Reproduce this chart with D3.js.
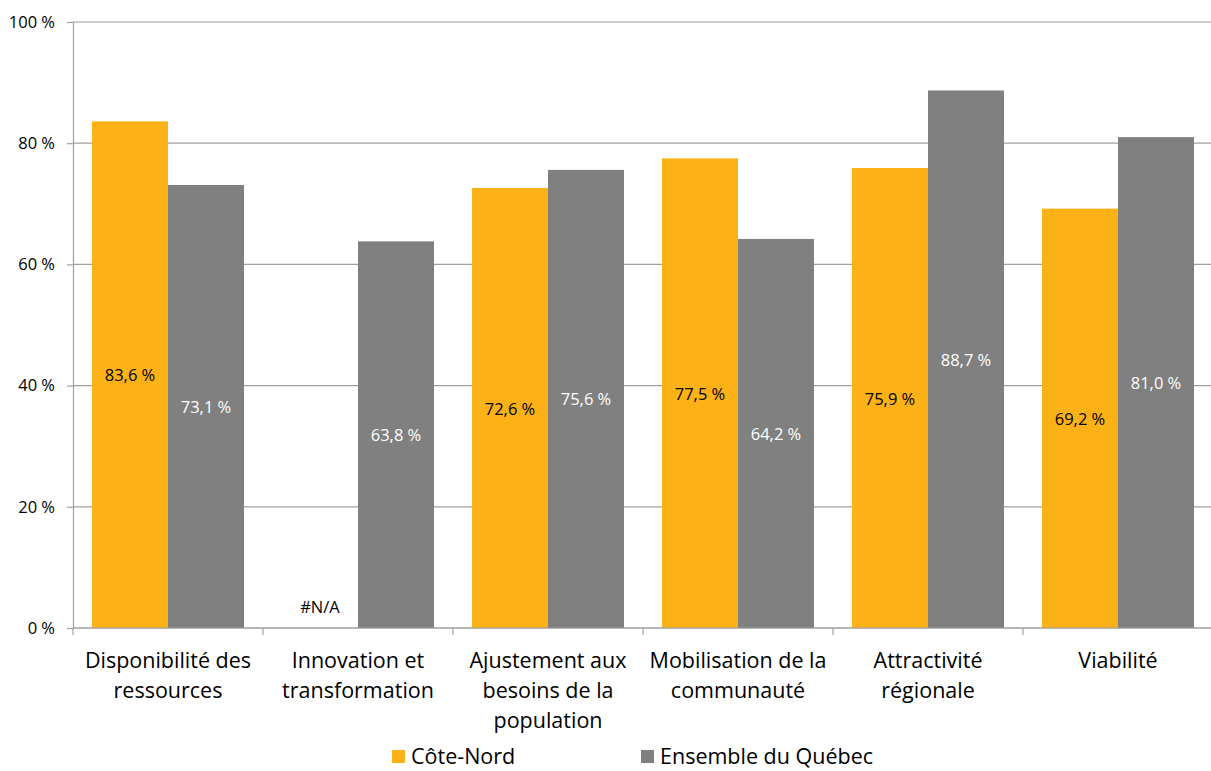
<!DOCTYPE html>
<html>
<head>
<meta charset="utf-8">
<script src="https://cdn.jsdelivr.net/npm/d3@7"></script>
<style>
  body { margin: 0; background: #fff; }
  svg { font-family: "Open Sans", Lato, sans-serif; display: block; }
</style>
</head>
<body>
<svg id="chart" width="1211" height="771"></svg>
<script>
const categories = [
  "Disponibilité des ressources",
  "Innovation et transformation",
  "Ajustement aux besoins de la population",
  "Mobilisation de la communauté",
  "Attractivité régionale",
  "Viabilité",
];
const categoryLines = [
  ["Disponibilité des", "ressources"],
  ["Innovation et", "transformation"],
  ["Ajustement aux", "besoins de la", "population"],
  ["Mobilisation de la", "communauté"],
  ["Attractivité", "régionale"],
  ["Viabilité"],
];
const seriesNames = ["Côte-Nord", "Ensemble du Québec"];
const coteNord = [83.6, null, 72.6, 77.5, 75.9, 69.2];
const quebec = [73.1, 63.8, 75.6, 64.2, 88.7, 81.0];
const yTicks = [0, 20, 40, 60, 80, 100];

const COLORS = { "Côte-Nord": "#fcb216", "Ensemble du Québec": "#808080" };
const LABEL_COLORS = { "Côte-Nord": "#000", "Ensemble du Québec": "#fff" };

const svg = d3.select("#chart");
const margin = { top: 22, right: -2, bottom: 143, left: 73 };
const width = 1211 - margin.left - margin.right;
const height = 771 - margin.top - margin.bottom;

const x = d3.scaleBand().domain(categories).range([0, width]).paddingInner(0).paddingOuter(0);
const inner = d3.scaleBand().domain(seriesNames).range([0, x.bandwidth()]).paddingOuter(0.25).paddingInner(0);
const y = d3.scaleLinear().domain([0, 100]).range([height, 0]);

const g = svg.append("g").attr("transform", `translate(${margin.left},${margin.top})`);

// gridlines
g.selectAll("line.grid")
  .data(yTicks)
  .join("line")
  .attr("class", "grid")
  .attr("x1", 0)
  .attr("x2", width)
  .attr("y1", (d) => y(d))
  .attr("y2", (d) => y(d))
  .attr("stroke", "#a0a0a0")
  .attr("stroke-width", 1.2);

const series = [
  { name: "Côte-Nord", values: coteNord },
  { name: "Ensemble du Québec", values: quebec },
];

const fmt = (v) => (v == null ? "#N/A" : v.toFixed(1).replace(".", ",") + " %");

series.forEach((s) => {
  const items = s.values.map((v, i) => ({ cat: categories[i], v }));
  g.selectAll(null)
    .data(items.filter((d) => d.v != null))
    .join("rect")
    .attr("x", (d) => x(d.cat) + inner(s.name))
    .attr("y", (d) => y(d.v))
    .attr("width", inner.bandwidth())
    .attr("height", (d) => height - y(d.v))
    .attr("fill", COLORS[s.name]);

  g.selectAll(null)
    .data(items)
    .join("text")
    .attr("x", (d) => x(d.cat) + inner(s.name) + inner.bandwidth() / 2)
    .attr("y", (d) => (d.v == null ? height - 22 : y(d.v / 2)))
    .attr("text-anchor", "middle")
    .attr("dominant-baseline", "central")
    .attr("font-size", 16.5)
    .attr("fill", (d) => (d.v == null ? "#000" : LABEL_COLORS[s.name]))
    .text((d) => fmt(d.v));
});

// y axis
const yAxis = g.append("g").call(
  d3.axisLeft(y).tickValues(yTicks).tickSize(6).tickPadding(12).tickFormat((d) => d + " %")
);
yAxis.select(".domain").attr("stroke", "#a0a0a0").attr("stroke-width", 1.2);
yAxis.selectAll(".tick line").attr("stroke", "#a0a0a0").attr("stroke-width", 1.2);
yAxis.selectAll(".tick text").attr("font-size", 16.5).attr("fill", "#000").attr("font-family", "'Open Sans', sans-serif");

// x axis
const xAxis = g.append("g").attr("transform", `translate(0,${height})`);
xAxis.append("line").attr("x1", 0).attr("x2", width).attr("stroke", "#a0a0a0").attr("stroke-width", 1.2);
xAxis.selectAll("line.tick")
  .data(categories)
  .join("line")
  .attr("class", "tick")
  .attr("x1", (d) => x(d))
  .attr("x2", (d) => x(d))
  .attr("y1", 0)
  .attr("y2", 7)
  .attr("stroke", "#a0a0a0")
  .attr("stroke-width", 1.2);

const catText = xAxis.selectAll("text.cat")
  .data(categories)
  .join("text")
  .attr("class", "cat")
  .attr("text-anchor", "middle")
  .attr("font-size", 21.5)
  .attr("fill", "#000")
  .attr("transform", (d) => `translate(${x(d) + x.bandwidth() / 2},0)`);
catText.selectAll("tspan")
  .data((d, i) => categoryLines[i])
  .join("tspan")
  .attr("x", 0)
  .attr("y", (d, i) => 40 + i * 30)
  .text((d) => d);

// legend
const legendPos = [392, 641];
const legend = svg.append("g");
seriesNames.forEach((name, i) => {
  legend.append("rect")
    .attr("x", legendPos[i])
    .attr("y", 750)
    .attr("width", 13)
    .attr("height", 13)
    .attr("fill", COLORS[name]);
  legend.append("text")
    .attr("x", legendPos[i] + 19)
    .attr("y", 764)
    .attr("font-size", 21.5)
    .attr("fill", "#000")
    .text(name);
});
</script>
</body>
</html>
